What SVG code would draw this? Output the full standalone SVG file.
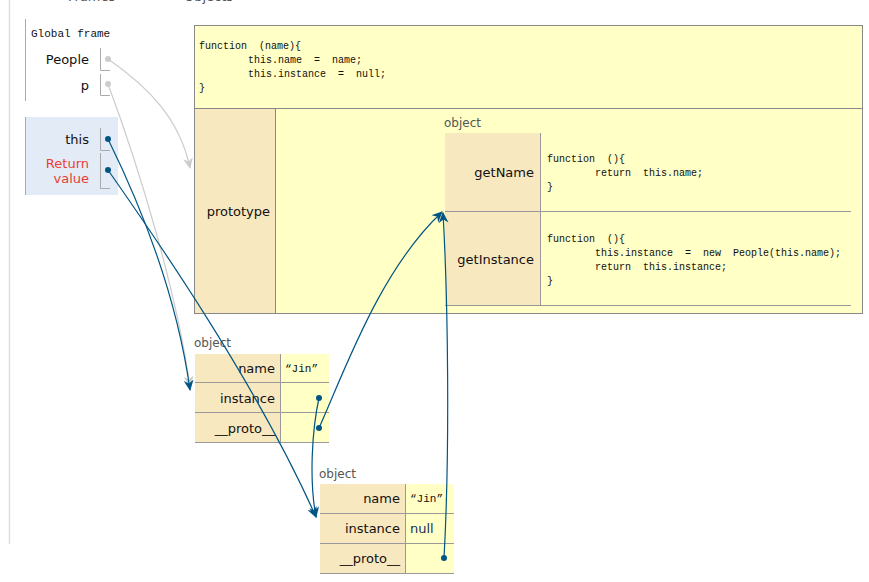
<svg xmlns="http://www.w3.org/2000/svg" width="869" height="582" viewBox="0 0 869 582">
  <style>
    .lbl { font-family: "DejaVu Sans", Verdana, sans-serif; font-size: 13px; fill: #111; }
    .key { text-anchor: end; }
    .type { font-family: "DejaVu Sans", Verdana, sans-serif; font-size: 12px; fill: #555; }
    .code { font-family: "Liberation Mono", "DejaVu Sans Mono", monospace; font-size: 10px; fill: #111; white-space: pre; }
    .mono { font-family: "Liberation Mono", "DejaVu Sans Mono", monospace; font-size: 11px; fill: #111; white-space: pre; }
    .hdr { font-family: "DejaVu Sans", Verdana, sans-serif; font-size: 13px; fill: #555; }
    .rule { stroke: #999; stroke-width: 1; fill: none; }
    .bracket { stroke: #aaa; stroke-width: 1; fill: none; }
    .keycell { fill: #f8e8c0; }
    .valcell { fill: #ffffc6; }
    .ptr { stroke: #005583; stroke-width: 1.2; fill: none; marker-end: url(#arrowBlue); }
    .ptrGrey { stroke: #cccccc; stroke-width: 1.2; fill: none; marker-end: url(#arrowGrey); }
    .dot { fill: #005583; }
    .dotGrey { fill: #cccccc; }
  </style>
  <defs>
    <marker id="arrowBlue" viewBox="0 0 10 10" refX="9" refY="5" markerWidth="11" markerHeight="11" markerUnits="userSpaceOnUse" orient="auto">
      <path d="M0,0.5 L10,5 L0,9.5 L3,5 z" fill="#005583"/>
    </marker>
    <marker id="arrowGrey" viewBox="0 0 10 10" refX="9" refY="5" markerWidth="11" markerHeight="11" markerUnits="userSpaceOnUse" orient="auto">
      <path d="M0,0.5 L10,5 L0,9.5 L3,5 z" fill="#cccccc"/>
    </marker>
  </defs>

  <rect width="869" height="582" fill="#ffffff"/>

  <!-- column headers, mostly scrolled out of view -->
  <text class="hdr" x="68" y="1">Frames</text>
  <text class="hdr" x="184" y="1">Objects</text>
  <line x1="9.5" y1="0" x2="9.5" y2="544" stroke="#dddddd" stroke-width="1.5"/>

  <!-- global frame -->
  <g id="global-frame">
    <line x1="25.5" y1="19" x2="25.5" y2="101" stroke="#aaa" stroke-width="1"/>
    <text class="mono" x="31" y="37">Global frame</text>
    <text class="lbl key" x="89" y="64" fill="#111">People</text>
    <path class="bracket" d="M100.5,48 V70.5 H110"/>
    <circle class="dotGrey" cx="108" cy="59" r="3"/>
    <text class="lbl key" x="89" y="90">p</text>
    <path class="bracket" d="M100.5,74 V95.5 H110"/>
    <circle class="dotGrey" cx="108" cy="84" r="3"/>
  </g>

  <!-- function call frame -->
  <g id="call-frame">
    <rect x="25" y="117" width="93" height="78" fill="#e2ebf6"/>
    <line x1="25.5" y1="117" x2="25.5" y2="195" stroke="#aaa" stroke-width="1"/>
    <text class="lbl key" x="89" y="144">this</text>
    <path class="bracket" d="M100.5,128 V150.5 H110"/>
    <circle class="dot" cx="108" cy="139" r="3"/>
    <text class="lbl key" x="89" y="168" style="fill:#e93f34">Return</text>
    <text class="lbl key" x="89" y="183" style="fill:#e93f34">value</text>
    <path class="bracket" d="M100.5,153 V188.5 H110"/>
    <circle class="dot" cx="108" cy="170" r="3"/>
  </g>

  <!-- People function object with its prototype -->
  <g id="people-function">
    <rect x="194.5" y="25.5" width="668" height="288" fill="#ffffc6" stroke="#888" stroke-width="1"/>
    <text class="code" x="199" y="49">function  (name){</text>
    <text class="code" x="248" y="63">this.name  =  name;</text>
    <text class="code" x="248" y="77">this.instance  =  null;</text>
    <text class="code" x="199" y="91">}</text>
    <line x1="194.5" y1="108.5" x2="862.5" y2="108.5" stroke="#888" stroke-width="1"/>
    <rect x="195" y="109" width="80" height="204" class="keycell"/>
    <line x1="275.5" y1="108.5" x2="275.5" y2="313" stroke="#888" stroke-width="1"/>
    <text class="lbl key" x="270" y="216">prototype</text>
  </g>

  <!-- prototype object -->
  <g id="prototype-object">
    <text class="type" x="444" y="127">object</text>
    <rect x="445" y="133" width="95" height="172" class="keycell"/>
    <line x1="540.5" y1="133" x2="540.5" y2="305" class="rule"/>
    <line x1="445" y1="211.5" x2="851" y2="211.5" class="rule"/>
    <line x1="445" y1="305.5" x2="851" y2="305.5" class="rule"/>
    <text class="lbl key" x="534" y="177">getName</text>
    <text class="code" x="547" y="162">function  (){</text>
    <text class="code" x="595" y="176">return  this.name;</text>
    <text class="code" x="547" y="190">}</text>
    <text class="lbl key" x="534" y="264">getInstance</text>
    <text class="code" x="547" y="242">function  (){</text>
    <text class="code" x="595" y="256">this.instance  =  new  People(this.name);</text>
    <text class="code" x="595" y="270">return  this.instance;</text>
    <text class="code" x="547" y="284">}</text>
  </g>

  <!-- instance referenced by p -->
  <g id="object-p">
    <text class="type" x="194" y="347">object</text>
    <rect x="195" y="354" width="85" height="88" class="keycell"/>
    <rect x="281" y="354" width="48" height="88" class="valcell"/>
    <line x1="280.5" y1="354" x2="280.5" y2="442" class="rule"/>
    <line x1="195" y1="382.5" x2="329" y2="382.5" class="rule"/>
    <line x1="195" y1="412.5" x2="329" y2="412.5" class="rule"/>
    <line x1="195" y1="442.5" x2="329" y2="442.5" class="rule"/>
    <text class="lbl key" x="275" y="373">name</text>
    <text class="mono" x="285" y="372">“Jin”</text>
    <text class="lbl key" x="275" y="403">instance</text>
    <circle class="dot" cx="319" cy="398" r="3"/>
    <text class="lbl key" x="275" y="433">__proto__</text>
    <circle class="dot" cx="319" cy="428" r="3"/>
  </g>

  <!-- instance created by getInstance -->
  <g id="object-instance">
    <text class="type" x="319" y="478">object</text>
    <rect x="320" y="484" width="85" height="89" class="keycell"/>
    <rect x="406" y="484" width="48" height="89" class="valcell"/>
    <line x1="405.5" y1="484" x2="405.5" y2="573" class="rule"/>
    <line x1="320" y1="513.5" x2="454" y2="513.5" class="rule"/>
    <line x1="320" y1="543.5" x2="454" y2="543.5" class="rule"/>
    <line x1="320" y1="573.5" x2="454" y2="573.5" class="rule"/>
    <text class="lbl key" x="400" y="503">name</text>
    <text class="mono" x="410" y="502">“Jin”</text>
    <text class="lbl key" x="400" y="533">instance</text>
    <text class="lbl" x="410" y="533" style="fill:#1a2f5a">null</text>
    <text class="lbl key" x="400" y="563">__proto__</text>
    <circle class="dot" cx="444" cy="558" r="3"/>
  </g>

  <!-- pointers -->
  <g id="connectors">
    <path class="ptrGrey" d="M108,59 C150,88 180,120 190,168"/>
    <path class="ptrGrey" d="M108,84 C140,170 176,290 190,386"/>
    <path class="ptr" d="M108,139 C138,200 176,290 190,390"/>
    <path class="ptr" d="M108,170 C150,230 255,380 316,517"/>
    <path class="ptr" d="M319,398 C312,430 309,480 316,517"/>
    <path class="ptr" d="M319,428 C345,370 380,270 442,212"/>
    <path class="ptr" d="M444,558 C450,450 448,300 443,213"/>
  </g>
</svg>
